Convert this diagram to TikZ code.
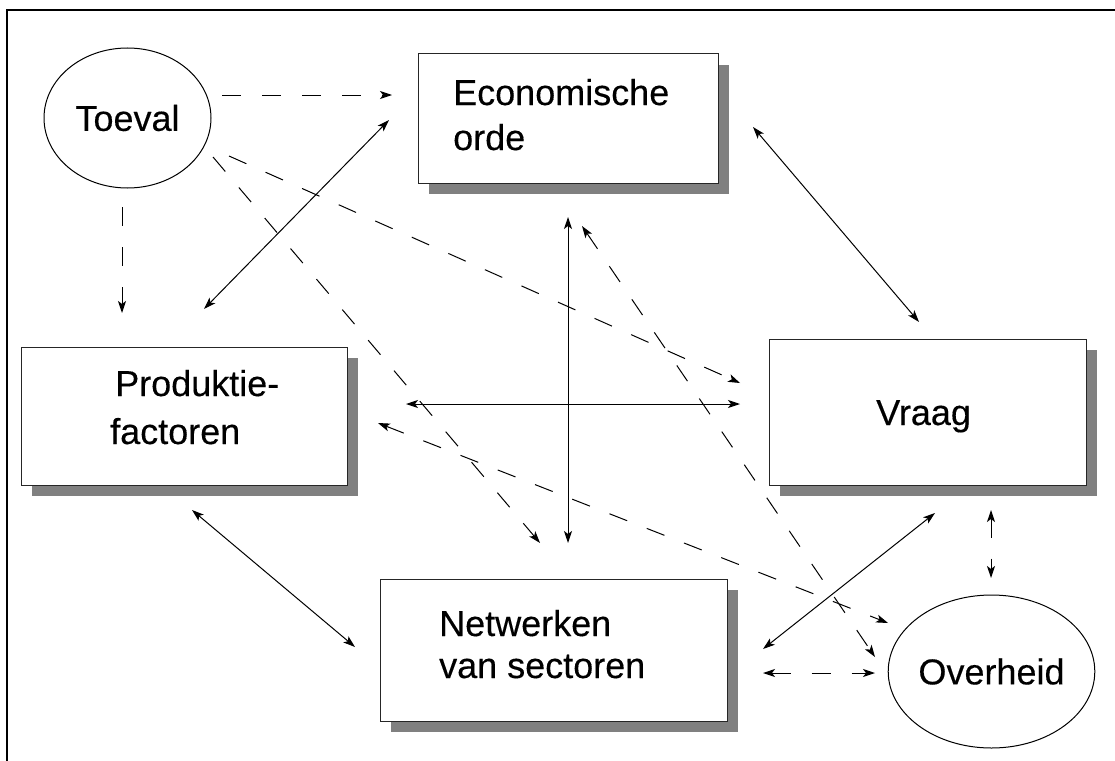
\documentclass[tikz,border=0pt]{standalone}
\usepackage{fontspec}
\setmainfont{Liberation Sans}[FakeBold=0.3]
\usetikzlibrary{arrows.meta,shapes.geometric,shadows}
\newcommand\diagfont{\fontsize{36}{43}\selectfont}
\begin{document}
\begin{tikzpicture}[x=1pt,y=-1pt,
  >={Stealth[length=12pt,width=8pt,inset=3pt]},
  box/.style={draw=black!85, line width=1pt, fill=white, rectangle, inner sep=0pt,
    drop shadow={shadow xshift=11pt,shadow yshift=-11pt,fill=black!50,opacity=1}},
  oval/.style={draw=black, line width=1pt, fill=white, ellipse, inner sep=0pt, font=\diagfont},
  lbl/.style={inner sep=0pt, anchor=base west, font=\diagfont},
  con/.style={line width=1pt, black},
  dsh/.style={con, dash pattern=on 19pt off 21pt},
  frame/.style={line width=2.5pt, black}
]
\useasboundingbox (0,0) rectangle (1115,760);
\draw[frame] (7,762) -- (7,10) -- (1117,10);

% nodes
\node[oval, minimum width=167pt, minimum height=140pt] (toeval) at (127.5,118) {Toeval};
\node[oval, minimum width=189pt, minimum height=153pt] (overheid) at (991.5,671.5) {Overheid};
\node[box, minimum width=300pt, minimum height=129pt] (econ) at (568,118.5) {};
\node[box, minimum width=326pt, minimum height=138pt] (prod) at (184,416) {};
\node[box, minimum width=317pt, minimum height=146pt] (vraag) at (927.5,412) {};
\node[box, minimum width=347pt, minimum height=142pt] (netw) at (553.5,650) {};

% labels
\node[lbl] (econA) at (453,105) {Economische};
\node[lbl] (econB) at (453,150) {orde};
\node[lbl] (prodA) at (115,396) {Produktie-};
\node[lbl] (prodB) at (110,444) {factoren};
\node[lbl] (vraagA) at (876,425) {Vraag};
\node[lbl] (netwA) at (439,636) {Netwerken};
\node[lbl] (netwB) at (439,678) {van sectoren};

% dashed connectors
\draw[dsh,->] ([shift={(94.5,-23)}]toeval.center) -- ([shift={(-176,-23.5)}]econ.center);
\draw[dsh,->] ([shift={(-5.5,89)}]toeval.center) -- ([shift={(-62,-103)}]prod.center);
\draw[dsh,->] ([shift={(101.5,38)}]toeval.center) -- ([shift={(-187.5,-29)}]vraag.center);
\draw[dsh,->] ([shift={(85.5,39)}]toeval.center) -- ([shift={(-13.5,-107)}]netw.center);
\draw[dsh,<->] ([shift={(14,107.5)}]econ.center) -- ([shift={(-116.5,-14.5)}]overheid.center);
\draw[dsh,<->] ([shift={(194,7)}]prod.center) -- ([shift={(-103.5,-48.5)}]overheid.center);
\draw[dsh,<->] ([shift={(63.5,98)}]vraag.center) -- ([shift={(-0.5,-93.5)}]overheid.center);
\draw[dsh,<->] ([shift={(209.5,23)}]netw.center) -- ([shift={(-116.5,1.5)}]overheid.center);

% solid connectors
\draw[con,<->] ([shift={(20,-107)}]prod.center) -- ([shift={(-179,1.5)}]econ.center);
\draw[con,<->] ([shift={(0,98.5)}]econ.center) -- ([shift={(14.5,-107)}]netw.center);
\draw[con,<->] ([shift={(185,8.5)}]econ.center) -- ([shift={(-8.5,-90)}]vraag.center);
\draw[con,<->] ([shift={(222,-12)}]prod.center) -- ([shift={(-187.5,-8)}]vraag.center);
\draw[con,<->] ([shift={(209.5,-1)}]netw.center) -- ([shift={(7.5,101)}]vraag.center);
\draw[con,<->] ([shift={(8,94)}]prod.center) -- ([shift={(-198.5,-3)}]netw.center);
\end{tikzpicture}
\end{document}
